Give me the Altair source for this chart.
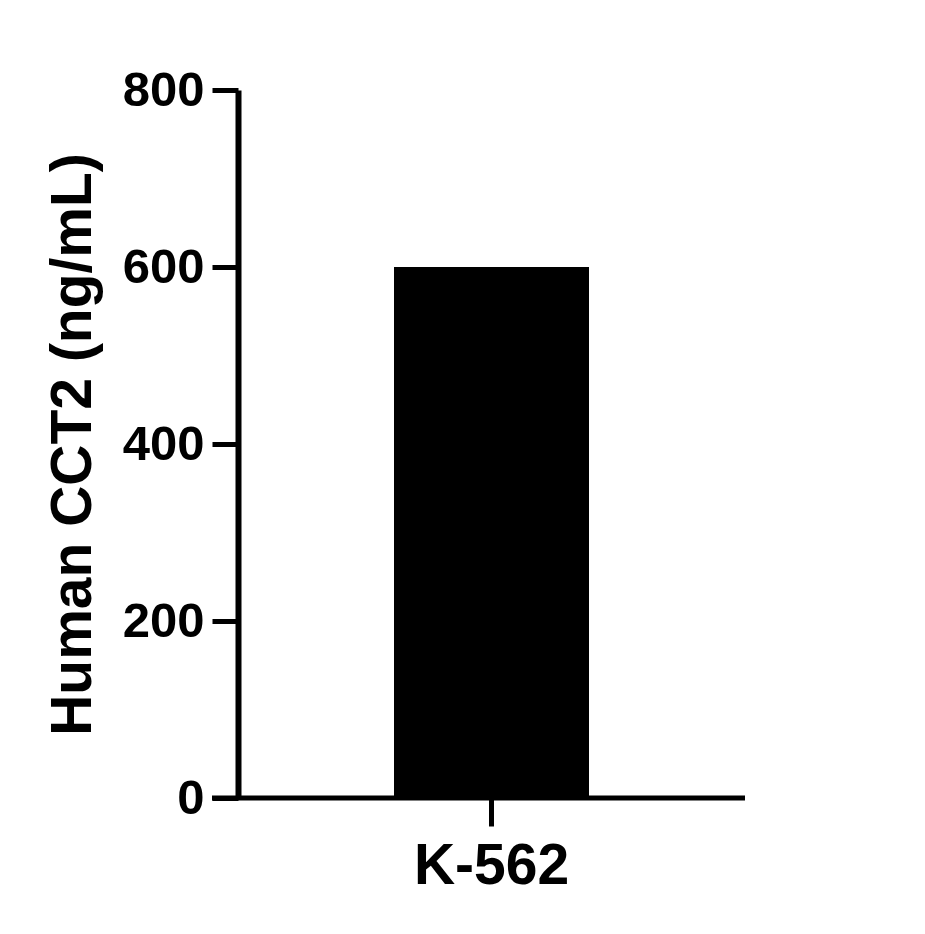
import altair as alt
import pandas as pd

categories = ["K-562"]
values = [600]
y_ticks = [0, 200, 400, 600, 800]

df = pd.DataFrame({"cell": categories, "value": values})

FONT = "Liberation Sans"
W, H = 507, 708

bars = alt.Chart(df).mark_bar(color="black", size=195).encode(
    x=alt.X("cell:N", title=None,
            axis=alt.Axis(domain=False, labelAngle=0, labelFont=FONT, labelFontSize=57,
                          labelFontWeight="bold", labelColor="black", labelPadding=12,
                          tickSize=28, tickWidth=5, tickColor="black")),
    y=alt.Y("value:Q", title="Human CCT2 (ng/mL)",
            scale=alt.Scale(domain=[0, 800], nice=False),
            axis=alt.Axis(values=y_ticks, grid=False, domainWidth=6, domainColor="black",
                          tickSize=26, tickWidth=5, tickColor="black",
                          labelFont=FONT, labelFontSize=49, labelFontWeight="bold",
                          labelColor="black", labelPadding=8,
                          titleFont=FONT, titleFontSize=57, titleFontWeight="bold",
                          titleColor="black", titlePadding=20)),
)

xline = alt.Chart(df).mark_rule(color="black", strokeWidth=5).encode(
    x=alt.value(-26), x2=alt.value(W), y=alt.value(H)
)

chart = alt.layer(bars, xline).properties(
    width=W, height=H,
    background="white",
    autosize=alt.AutoSizeParams(type="none"),
    padding={"left": 230, "top": 82, "right": 170, "bottom": 128},
).configure_view(strokeWidth=0, stroke="transparent")

chart.save("out.html", embed_options={"renderer": "svg", "actions": False})
